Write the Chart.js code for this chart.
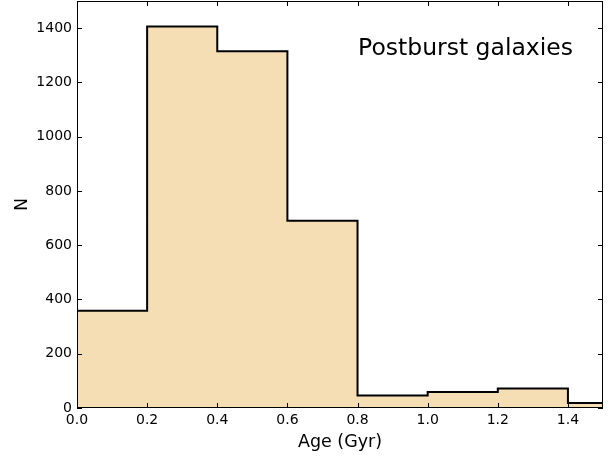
<!DOCTYPE html>
<html>
<head>
<meta charset="utf-8">
<script src="https://cdn.jsdelivr.net/npm/chart.js@4/dist/chart.umd.min.js"></script>
<style>
  body { margin: 0; background: #fff; }
  #wrap { width: 616px; height: 457px; }
</style>
</head>
<body>
<div id="wrap"><canvas id="histChart" width="616" height="457"></canvas></div>
<script>
// Histograma de idades das galaxias pos-burst
const BIN_EDGES = [0, 0.2, 0.4, 0.6, 0.8, 1.0, 1.2, 1.4, 1.5];
const COUNTS = [358, 1406, 1315, 690, 46, 59, 72, 18];
const X_TICKS = [0, 0.2, 0.4, 0.6, 0.8, 1.0, 1.2, 1.4];
const Y_TICKS = [0, 200, 400, 600, 800, 1000, 1200, 1400];
const LABEL_TEXT = 'Postburst galaxies';

const FONT = "'DejaVu Sans', sans-serif";

// pontos do contorno: borda esquerda de cada bin + borda final
const points = BIN_EDGES.map((x, i) => ({ x: x, y: COUNTS[Math.min(i, COUNTS.length - 1)] }));

const framePlugin = {
    id: 'frameAndTicks',
    afterDatasetsDraw(chart) {
        const ctx = chart.ctx;
        const a = chart.chartArea;
        const xs = chart.scales.x, ys = chart.scales.y;
        const tl = 5;
        ctx.save();
        ctx.strokeStyle = '#000';
        ctx.lineWidth = 1;
        ctx.beginPath();
        X_TICKS.forEach(v => {
            const px = Math.round(xs.getPixelForValue(v)) + 0.5;
            ctx.moveTo(px, a.bottom); ctx.lineTo(px, a.bottom - tl);
            ctx.moveTo(px, a.top); ctx.lineTo(px, a.top + tl);
        });
        Y_TICKS.forEach(v => {
            const py = Math.round(ys.getPixelForValue(v)) + 0.5;
            ctx.moveTo(a.left, py); ctx.lineTo(a.left + tl, py);
            ctx.moveTo(a.right, py); ctx.lineTo(a.right - tl, py);
        });
        ctx.stroke();
        ctx.strokeRect(a.left + 0.5, a.top + 0.5, a.right - a.left - 1, a.bottom - a.top - 1);

        ctx.fillStyle = '#000';
        ctx.font = '23.5px ' + FONT;
        ctx.textAlign = 'right';
        ctx.textBaseline = 'alphabetic';
        ctx.fillText(LABEL_TEXT, a.right - 30, a.top + 54);
        ctx.restore();
    }
};

new Chart(document.getElementById('histChart').getContext('2d'), {
    type: 'line',
    data: {
        datasets: [{
            data: points,
            stepped: true,
            fill: 'origin',
            backgroundColor: '#F5DEB3',
            borderColor: '#000',
            borderWidth: 2,
            pointRadius: 0,
            tension: 0
        }]
    },
    options: {
        responsive: false,
        animation: false,
        layout: { padding: { top: 1, right: 13, left: 0, bottom: 0 } },
        plugins: { legend: { display: false }, tooltip: { enabled: false } },
        scales: {
            x: {
                type: 'linear',
                min: 0,
                max: 1.5,
                afterBuildTicks: s => { s.ticks = X_TICKS.map(v => ({ value: v })); },
                afterFit: s => { s.height = 49; s.paddingLeft = 0; s.paddingRight = 0; },
                grid: { display: false, drawTicks: false },
                border: { display: false },
                ticks: {
                    padding: 4,
                    color: '#000',
                    font: { family: FONT, size: 14 },
                    callback: v => Number(v).toFixed(1)
                },
                title: {
                    display: true,
                    text: 'Age (Gyr)',
                    color: '#000',
                    font: { family: FONT, size: 17.5 },
                    padding: { top: 0, bottom: 4 }
                }
            },
            y: {
                min: 0,
                max: 1500,
                afterBuildTicks: s => { s.ticks = Y_TICKS.map(v => ({ value: v })); },
                afterFit: s => { s.width = 77; s.paddingTop = 0; s.paddingBottom = 0; },
                grid: { display: false, drawTicks: false },
                border: { display: false },
                ticks: {
                    padding: 5,
                    color: '#000',
                    font: { family: FONT, size: 14 },
                    callback: v => String(v)
                },
                title: {
                    display: true,
                    text: 'N',
                    color: '#000',
                    font: { family: FONT, size: 17.5 },
                    padding: { top: 12, bottom: 0 }
                }
            }
        }
    },
    plugins: [framePlugin]
});
</script>
</body>
</html>
